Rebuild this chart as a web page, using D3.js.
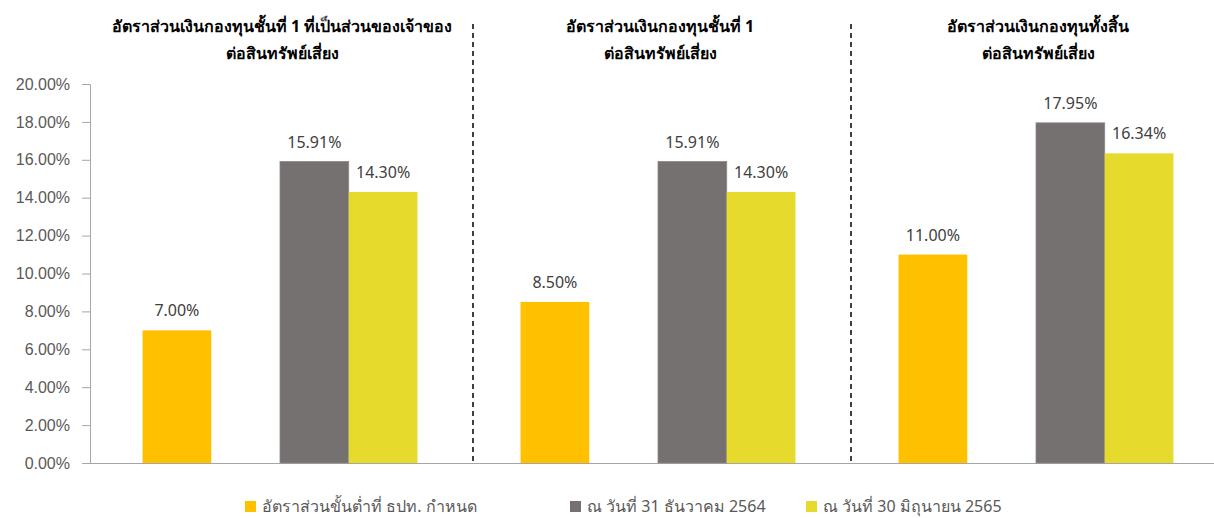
<!DOCTYPE html>
<html>
<head>
<meta charset="utf-8">
<script src="https://cdn.jsdelivr.net/npm/d3@7"></script>
<style>
  body { margin: 0; background: #fff; }
  svg { display: block; font-family: Tahoma, "Noto Sans", sans-serif; }
</style>
</head>
<body>
<div id="chart"></div>
<script>
// Data
const categories = ["tier1common", "tier1", "total"];
const titles = [
    ["อัตราส่วนเงินกองทุนชั้นที่ 1 ที่เป็นส่วนของเจ้าของ", "ต่อสินทรัพย์เสี่ยง"],
    ["อัตราส่วนเงินกองทุนชั้นที่ 1", "ต่อสินทรัพย์เสี่ยง"],
    ["อัตราส่วนเงินกองทุนทั้งสิ้น", "ต่อสินทรัพย์เสี่ยง"]
];
const minimumRatio = [7.00, 8.50, 11.00];
const dec2564 = [15.91, 15.91, 17.95];
const jun2565 = [14.30, 14.30, 16.34];
const seriesNames = ["อัตราส่วนขั้นต่ำที่ ธปท. กำหนด", "ณ วันที่ 31 ธันวาคม 2564", "ณ วันที่ 30 มิถุนายน 2565"];
const yTicks = [0, 2, 4, 6, 8, 10, 12, 14, 16, 18, 20];

const width = 1214, height = 518;
const margin = {top: 84, left: 91, bottom: 55};
const colors = {min: "#FFC000", dec: "#767171", jun: "#E6DA2C"};

const svg = d3.select("#chart").append("svg")
    .attr("width", width)
    .attr("height", height);

// Scales
const x0 = d3.scaleBand()
    .domain(categories)
    .range([margin.left, margin.left + 378 * 3]);

// 4 slots per group, second slot left empty
const x1 = d3.scaleBand()
    .domain(["min", "blank", "dec", "jun"])
    .range([0, x0.bandwidth()])
    .paddingOuter(0.75);

const y = d3.scaleLinear()
    .domain([0, 20])
    .range([height - margin.bottom, margin.top]);

// Y axis
const yAxis = svg.append("g")
    .attr("transform", `translate(${margin.left - 1},0)`)
    .call(d3.axisLeft(y).tickValues(yTicks).tickSize(8).tickPadding(12)
        .tickFormat(d => d3.format(".2f")(d) + "%"));
yAxis.select(".domain").attr("stroke", "#A6A6A6");
yAxis.selectAll(".tick line").attr("stroke", "#A6A6A6");
yAxis.selectAll("text")
    .attr("fill", "#595959")
    .style("font-size", "16px");

// Baseline
svg.append("line")
    .attr("x1", margin.left - 1).attr("x2", width)
    .attr("y1", y(0) + 0.5).attr("y2", y(0) + 0.5)
    .attr("stroke", "#A6A6A6");

// Bars
const rows = categories.map((c, i) => ({
    cat: c,
    vals: [
        {key: "min", value: minimumRatio[i]},
        {key: "dec", value: dec2564[i]},
        {key: "jun", value: jun2565[i]}
    ]
}));

const groups = svg.selectAll(".group")
    .data(rows)
    .enter().append("g")
    .attr("class", "group")
    .attr("transform", d => `translate(${x0(d.cat)},0)`);

groups.selectAll("rect")
    .data(d => d.vals)
    .enter().append("rect")
    .attr("x", d => x1(d.key))
    .attr("y", d => y(d.value))
    .attr("width", x1.bandwidth())
    .attr("height", d => y(0) - y(d.value))
    .attr("fill", d => colors[d.key])
    .attr("stroke", d => d.key === "dec" ? "#8C8888" : "none")
    .attr("stroke-width", 0.8);

groups.selectAll(".val")
    .data(d => d.vals)
    .enter().append("text")
    .attr("class", "val")
    .attr("x", d => x1(d.key) + x1.bandwidth() / 2)
    .attr("y", d => y(d.value) - 14)
    .attr("text-anchor", "middle")
    .attr("fill", "#404040")
    .style("font-size", "16px")
    .text(d => d3.format(".2f")(d.value) + "%");

// Group titles
groups.append("text")
    .attr("text-anchor", "middle")
    .attr("fill", "#000")
    .style("font-size", "16px")
    .style("font-weight", "bold")
    .selectAll("tspan")
    .data((d, i) => titles[i])
    .enter().append("tspan")
    .attr("x", x0.bandwidth() / 2 + 2)
    .attr("y", (d, i) => 32 + i * 27)
    .text(d => d);

// Dashed separators between groups
svg.selectAll(".sep")
    .data(categories.slice(1))
    .enter().append("line")
    .attr("class", "sep")
    .attr("x1", d => x0(d) + 4).attr("x2", d => x0(d) + 4)
    .attr("y1", 24).attr("y2", y(0))
    .attr("stroke", "#000")
    .attr("stroke-width", 1.5)
    .attr("stroke-dasharray", "5,4");

// Legend
const legendX = [245, 570, 806];
const legendKeys = ["min", "dec", "jun"];
const legend = svg.selectAll(".legend")
    .data(seriesNames)
    .enter().append("g")
    .attr("class", "legend")
    .attr("transform", (d, i) => `translate(${legendX[i]},${501})`);

legend.append("rect")
    .attr("width", 11).attr("height", 11)
    .attr("fill", (d, i) => colors[legendKeys[i]]);

legend.append("text")
    .attr("x", 17)
    .attr("y", 11)
    .attr("fill", "#595959")
    .style("font-size", "16px")
    .text(d => d);
</script>
</body>
</html>
